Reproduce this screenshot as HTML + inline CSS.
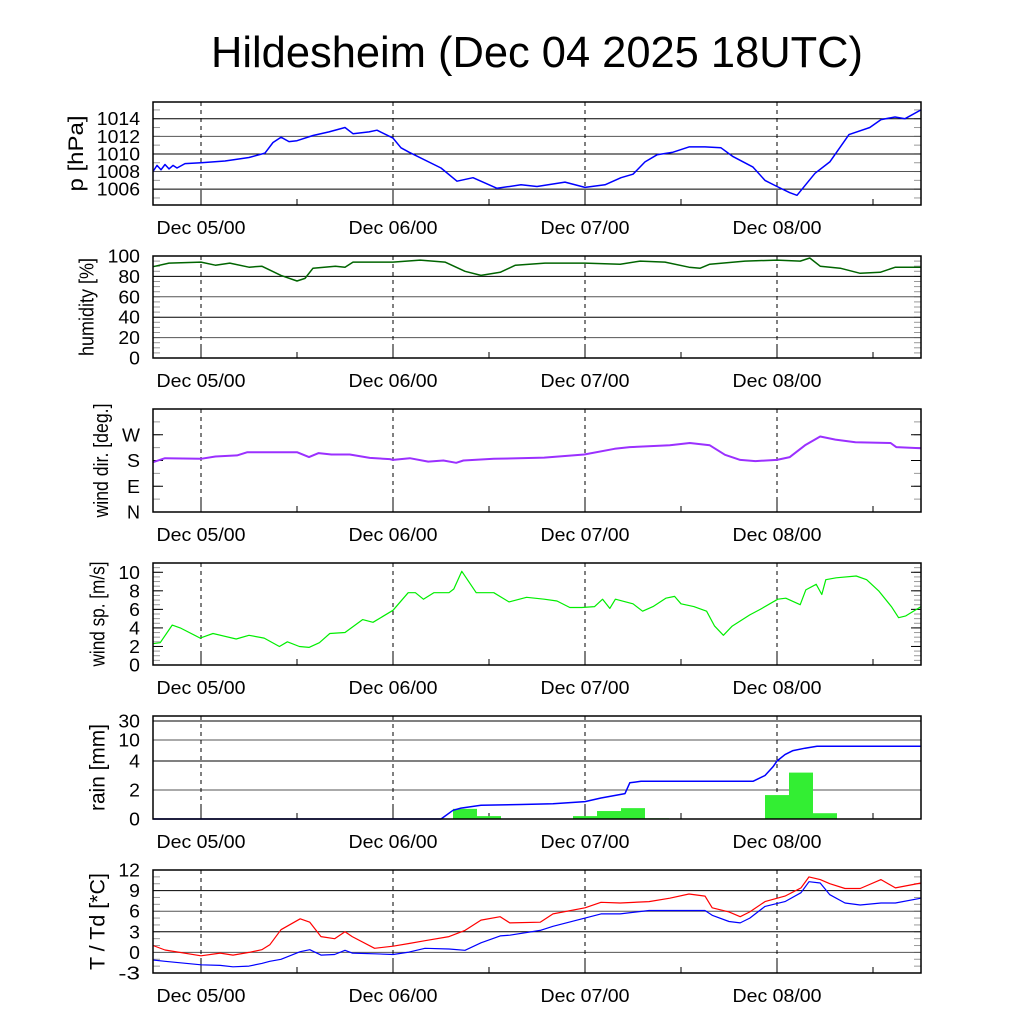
<!DOCTYPE html>
<html><head><meta charset="utf-8"><style>
html,body{margin:0;padding:0;background:#fff;}
svg{display:block;font-family:"Liberation Sans",Arial,sans-serif;}
</style></head><body>
<svg id="chart" width="1024" height="1024" viewBox="0 0 1024 1024">
<text x="537" y="67" font-size="44" text-anchor="middle" textLength="652" lengthAdjust="spacingAndGlyphs">Hildesheim (Dec 04 2025 18UTC)</text>
</svg>
<script>
// ---- data (hours since Dec 04 18UTC) ----
const dayLabels = ["Dec 05/00","Dec 06/00","Dec 07/00","Dec 08/00"];
const dayHours = [6,30,54,78];
const pHours = [0,0.5,1,1.5,2,2.5,3,4,6,9,12,14,15,16,17,18,20,22,24,25,27,28,30,31,32,36,38,40,43,46,48,51.5,54,56.5,58.5,60,61.5,63,65,67,69,71,72.5,75,76.5,78,79.6,80.5,82.75,84.6,87,89.6,91,92.75,94,96];
const pVals = [1008.0,1008.7,1008.2,1008.8,1008.3,1008.7,1008.4,1008.9,1009.0,1009.2,1009.6,1010.1,1011.3,1011.9,1011.4,1011.5,1012.1,1012.5,1013.0,1012.3,1012.5,1012.7,1011.8,1010.7,1010.2,1008.4,1006.9,1007.3,1006.1,1006.5,1006.3,1006.8,1006.2,1006.5,1007.3,1007.7,1009.1,1009.9,1010.2,1010.8,1010.8,1010.7,1009.7,1008.5,1007.0,1006.3,1005.6,1005.3,1007.8,1009.1,1012.2,1013.0,1013.9,1014.2,1014.0,1015.0];
const hHours = [0,2,6,7.8,9.6,12,13.6,16,18,19,20,22.8,24,25,30,33.4,36.5,39,41,43.4,45.3,49,54,58.4,60.9,64,67,68.4,69.6,74,78,80.9,82.1,83.4,85.9,88.4,90.9,92.8,96];
const hVals = [89.5,93,94,91,93,89,90,81,75.5,78,88,90,89,94,94,96,94,85,81,84,91,93,93,92,95,94,89,88,92,95,96,95,98,90,88,83,84,89,89];
const dHours = [0,1.5,6,7.8,10.5,11.8,18,19.5,20.7,22.3,24.6,27.1,29.6,30,32.1,34.4,36.3,37.9,38.8,42.6,48.9,53.9,57.7,59.6,64.6,67.1,69.6,71.5,73.4,75.3,78,79.6,81.5,83.4,85.3,87.8,92.2,92.9,96];
const dVals = [174,188,186,194,198,209,209,192,206,201,201,189,185,182,188,176,180,172,180,186,190,201,221,227,233,241,233,200,182,178,182,192,233,264,253,244,241,227,223];
const sHours = [0,0.9,2.4,3.4,5.9,7.5,10.4,12,13.9,15.8,16.8,18.3,19.5,20.8,22.1,24,26.2,27.5,30,31.9,32.8,33.8,35.1,37,37.6,38.6,40.4,42.6,44.5,46.7,48.9,50.5,52.1,53.6,55.2,56.2,57.1,57.8,60,61.2,62.5,64.1,65.2,66,67.6,69.2,70.2,71.3,72.4,74.6,75.9,78.1,79.1,80.9,81.6,82.9,83.6,84.1,85.4,87.9,89.2,90.7,92.3,93.2,94.1,96];
const sVals = [2.3,2.4,4.3,4.0,2.9,3.4,2.8,3.2,2.9,2.0,2.5,2.0,1.9,2.4,3.4,3.5,4.9,4.6,5.9,7.8,7.8,7.1,7.8,7.8,8.2,10.1,7.8,7.8,6.8,7.3,7.1,6.9,6.2,6.2,6.3,7.1,6.1,7.1,6.6,5.8,6.3,7.2,7.4,6.6,6.3,5.8,4.2,3.2,4.2,5.4,6.0,7.1,7.2,6.5,8.1,8.7,7.6,9.2,9.4,9.6,9.2,8.0,6.3,5.1,5.3,6.3];
const rainBinStart = [37.5,40.5,49.5,52.5,55.5,58.5,61.5,76.5,79.5,82.5];
const rainBinVals = [0.7,0.2,0.03,0.2,0.55,0.75,0.05,1.65,3.2,0.4];
const rainSumHours = [0,36,37.5,38.5,41,46,50,54,56,59,59.6,61,75,76.5,77.5,78,79,80,81.5,83,96];
const rainSumVals = [0,0,0.6,0.75,0.95,1.0,1.05,1.2,1.45,1.75,2.5,2.6,2.6,3.0,3.6,4.0,5.3,6.3,7.0,7.6,7.6];
const tHours = [0,1.5,6,8.4,10,12,13.6,14.6,16,18.4,19.6,21,22.7,24,24.9,27.7,30,32,34,37,39,41,43.4,44.6,48.4,50,54,56,58.4,62,64.6,67,69,69.9,72,73.4,74.6,76.5,79,81,82,83.4,84.6,86.5,88.4,91,92.8,96];
const tVals = [1.0,0.35,-0.5,-0.1,-0.4,0.0,0.4,1.1,3.3,4.9,4.4,2.3,2.0,3.0,2.3,0.6,0.9,1.3,1.7,2.3,3.2,4.7,5.2,4.3,4.4,5.6,6.5,7.3,7.2,7.4,7.9,8.5,8.2,6.5,5.9,5.2,5.9,7.4,8.2,9.4,11.0,10.6,10.0,9.3,9.3,10.6,9.4,10.1];
const tdVals = [-1.1,-1.3,-1.8,-1.9,-2.1,-2.0,-1.6,-1.3,-1.0,0.1,0.4,-0.4,-0.3,0.3,-0.1,-0.2,-0.3,0.05,0.6,0.5,0.3,1.4,2.4,2.5,3.2,3.8,5.0,5.6,5.6,6.1,6.1,6.1,6.1,5.4,4.5,4.3,5.0,6.7,7.4,8.7,10.3,10.1,8.4,7.2,6.9,7.2,7.2,7.9];

const pTicks = [1006,1008,1010,1012,1014];
const hTicks = [0,20,40,60,80,100];
const dTicks = [0,90,180,270];
const dTickLabels = ["N","E","S","W"];
const sTicks = [0,2,4,6,8,10];
const rainTicks = [0,2,4,10,30];
const tTicks = [-3,0,3,6,9,12];

// ---- layout ----
const NS = "http://www.w3.org/2000/svg";
const svg = document.getElementById("chart");
const X0 = 153, X1 = 921, H0 = 0, H1 = 96;
const xs = h => X0 + (h - H0) / (H1 - H0) * (X1 - X0);
function el(tag, attrs, parent) {
  const e = document.createElementNS(NS, tag);
  for (const k in attrs) e.setAttribute(k, attrs[k]);
  (parent || svg).appendChild(e);
  return e;
}
function linY(top, bot, lo, hi) { return v => bot - (v - lo) / (hi - lo) * (bot - top); }
function rainY(v) {
  const bot = 819;
  if (v <= 4) return bot - v * 14.5;
  if (v <= 10) return 761 - Math.log(v / 4) / Math.log(2.5) * 21;
  return 740 - Math.log(v / 10) / Math.log(3) * 19;
}
const panels = [
  {name:"pressure", top:102, bot:205, y:linY(102,205,1004.2,1015.9), ticks:pTicks, labels:pTicks.map(String), grid:true, label:"p [hPa]", tl:76, fs:21, minor:1, lo:1004.2, hi:1015.9},
  {name:"humidity", top:256, bot:358, y:linY(256,358,0,100), ticks:hTicks, labels:hTicks.map(String), grid:true, label:"humidity [%]", tl:98, fs:20, minor:5, lo:0, hi:100},
  {name:"wind-direction", top:409, bot:512, y:linY(409,512,0,360), ticks:dTicks, labels:dTickLabels, grid:false, label:"wind dir. [deg.]", tl:114, fs:20, minor:45, lo:0, hi:360},
  {name:"wind-speed", top:563, bot:665, y:linY(563,665,0,11), ticks:sTicks, labels:sTicks.map(String), grid:false, label:"wind sp. [m/s]", tl:105, fs:20, minor:0.5, lo:0, hi:11},
  {name:"rain", top:716, bot:819, y:rainY, ticks:rainTicks, labels:rainTicks.map(String), grid:true, label:"rain [mm]", tl:87, fs:21, minor:null},
  {name:"temperature", top:870, bot:973, y:linY(870,973,-3,12), ticks:tTicks, labels:tTicks.map(String), grid:true, label:"T / Td [*C]", tl:97, fs:21, minor:1, lo:-3, hi:12}
];

function line(hours, vals, yf, color, name, g, w) {
  const d = hours.map((h, i) => (i ? "L" : "M") + xs(h).toFixed(1) + "," + yf(vals[i]).toFixed(1)).join("");
  const p = el("path", {d:d, fill:"none", stroke:color, "stroke-width":w || 1.5, "stroke-linejoin":"round"}, g);
  
  
  return p;
}

const LX = 140;
panels.forEach(P => {
  const g = el("g", {});
  
  
  if (P.minor) {
    for (let v = Math.ceil(P.lo / P.minor) * P.minor; v <= P.hi; v += P.minor) {
      const y = P.y(v);
      el("line", {x1:X0, x2:X0 + 7, y1:y, y2:y, stroke:"#999", "stroke-width":1}, g);
      el("line", {x1:X1 - 7, x2:X1, y1:y, y2:y, stroke:"#999", "stroke-width":1}, g);
    }
  }
  let maxW = 0;
  P.ticks.forEach((v, i) => {
    const y = P.y(v);
    if (P.grid) {
      const gl = el("line", {x1:X0, x2:X1, y1:y, y2:y, stroke:i % 2 ? "#555" : "#000", "stroke-width":1}, g);
      
      
    } else {
      el("line", {x1:X0, x2:X0 + 10, y1:y, y2:y, stroke:"#000", "stroke-width":1}, g);
      el("line", {x1:X1 - 10, x2:X1, y1:y, y2:y, stroke:"#000", "stroke-width":1}, g);
    }
    const lab = P.labels[i];
    const w = /[NEWS]/.test(lab) ? (lab === "W" ? 18 : 13) : lab.length * 10.8;
    maxW = Math.max(maxW, w);
    const t = el("text", {x:LX, y:y + 6.5, "font-size":18, "text-anchor":"end", textLength:w, lengthAdjust:"spacingAndGlyphs"}, g);
    t.textContent = lab;
    
    
  });
  dayHours.forEach((h, i) => {
    const x = xs(h);
    el("line", {x1:x, x2:x, y1:P.top, y2:P.bot, stroke:"#000", "stroke-width":1, "stroke-dasharray":"4,4"}, g);
    el("line", {x1:x, x2:x, y1:P.bot - 12, y2:P.bot, stroke:"#000", "stroke-width":1}, g);
    const t = el("text", {x:x, y:P.bot + 29, "font-size":18.5, "text-anchor":"middle", textLength:89, lengthAdjust:"spacingAndGlyphs"}, g);
    t.textContent = dayLabels[i];
    
    
  });
  [18,42,66,90].forEach(h => el("line", {x1:xs(h), x2:xs(h), y1:P.bot - 6, y2:P.bot, stroke:"#000", "stroke-width":1}, g));
  const cy = (P.top + P.bot) / 2;
  const bx = LX - maxW - 14;
  const at = el("text", {x:0, y:0, "font-size":P.fs, "text-anchor":"middle", textLength:P.tl, lengthAdjust:"spacingAndGlyphs", transform:"translate(" + bx + "," + cy + ") rotate(-90)"}, g);
  at.textContent = P.label;
  
  
  P.g = g;
});

line(pHours, pVals, panels[0].y, "#0000ff", "pressure-line", panels[0].g);
line(hHours, hVals, panels[1].y, "#006400", "humidity-line", panels[1].g);
line(dHours, dVals, panels[2].y, "#9b30ff", "wind-direction-line", panels[2].g, 2);
line(sHours, sVals, panels[3].y, "#00ee00", "wind-speed-line", panels[3].g, 1.2);
rainBinStart.forEach((h, i) => {
  const y = rainY(rainBinVals[i]);
  const r = el("rect", {x:xs(h), y:y, width:xs(h + 3) - xs(h), height:819 - y, fill:"#33ee33"}, panels[4].g);
  
  
});
line(rainSumHours, rainSumVals, rainY, "#0000ff", "rain-cumulative-line", panels[4].g);
line(tHours, tVals, panels[5].y, "#ff0000", "temperature-line", panels[5].g, 1.2);
line(tHours, tdVals, panels[5].y, "#0000ff", "dewpoint-line", panels[5].g, 1.2);

panels.forEach(P => {
  const f = el("rect", {x:X0, y:P.top, width:X1 - X0, height:P.bot - P.top, fill:"none", stroke:"#000", "stroke-width":1.5});
  
  
});
</script>
</body></html>
